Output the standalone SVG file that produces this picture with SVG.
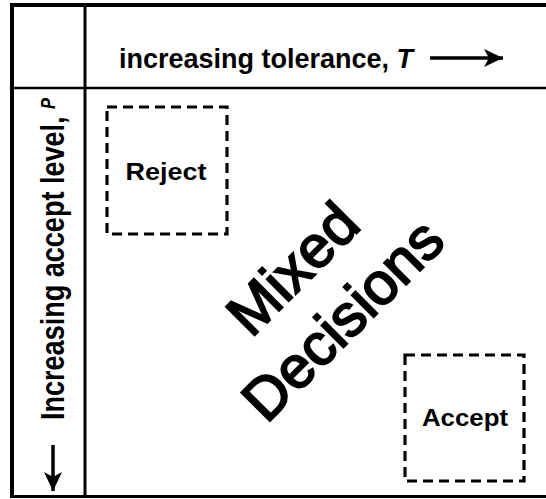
<svg xmlns="http://www.w3.org/2000/svg" width="546" height="499" viewBox="0 0 546 499">
  <style>
    .frame { fill: none; stroke: #000; }
    .box { fill: none; stroke: #000; stroke-width: 3.2; stroke-dasharray: 10 6; }
    .lbl { font-family: "Liberation Sans", Arial, sans-serif; font-weight: bold; fill: #000; }
    .big { font-family: "Liberation Sans", Arial, sans-serif; font-size: 59px; fill: #000; stroke: #000; stroke-width: 2; }
    .arrow { stroke: #000; stroke-width: 3.5; fill: none; }
  </style>
  <defs>
    <marker id="head" markerUnits="userSpaceOnUse" markerWidth="22" markerHeight="20" refX="20" refY="10" orient="auto" viewBox="0 0 22 20">
      <path d="M1,1 L20,10 L1,19 L6,10 Z" fill="#000"/>
    </marker>
  </defs>
  <rect width="546" height="499" fill="#fff"/>

  <g id="grid">
    <line class="frame" x1="10" y1="5" x2="546" y2="5" stroke-width="4"/>
    <line class="frame" x1="12" y1="3" x2="12" y2="498" stroke-width="4"/>
    <line class="frame" x1="10" y1="496.5" x2="546" y2="496.5" stroke-width="3"/>
    <line class="frame" x1="85" y1="5" x2="85" y2="497" stroke-width="3"/>
    <line class="frame" x1="12" y1="88" x2="546" y2="88" stroke-width="2.5"/>
  </g>

  <g id="col-header">
    <text class="lbl" x="119" y="68" font-size="27" textLength="294" lengthAdjust="spacingAndGlyphs">increasing tolerance, <tspan font-style="italic">T</tspan></text>
  </g>

  <g id="row-header">
    <text class="lbl" transform="translate(64,420) rotate(-90)" font-size="33" textLength="322" lengthAdjust="spacingAndGlyphs">Increasing accept level, <tspan font-style="italic" font-size="20" dy="-9">P</tspan></text>
  </g>

  <g id="reject">
    <rect class="box" x="107" y="107" width="120" height="127"/>
    <text class="lbl" x="166" y="180" font-size="23" text-anchor="middle" textLength="81" lengthAdjust="spacingAndGlyphs">Reject</text>
  </g>

  <g id="accept">
    <rect class="box" x="405" y="355" width="119" height="126"/>
    <text class="lbl" x="465" y="426" font-size="23" text-anchor="middle" textLength="86" lengthAdjust="spacingAndGlyphs">Accept</text>
  </g>

  <g id="mixed">
    <text class="big" x="307" y="283" text-anchor="middle" transform="rotate(-45 307 283)">Mixed</text>
    <text class="big" x="357" y="334" text-anchor="middle" transform="rotate(-45 357 334)">Decisions</text>
  </g>

  <g id="connectors">
    <line class="arrow" x1="430" y1="58" x2="503" y2="58" marker-end="url(#head)"/>
    <line class="arrow" x1="53" y1="445" x2="53" y2="491" marker-end="url(#head)"/>
  </g>
</svg>
